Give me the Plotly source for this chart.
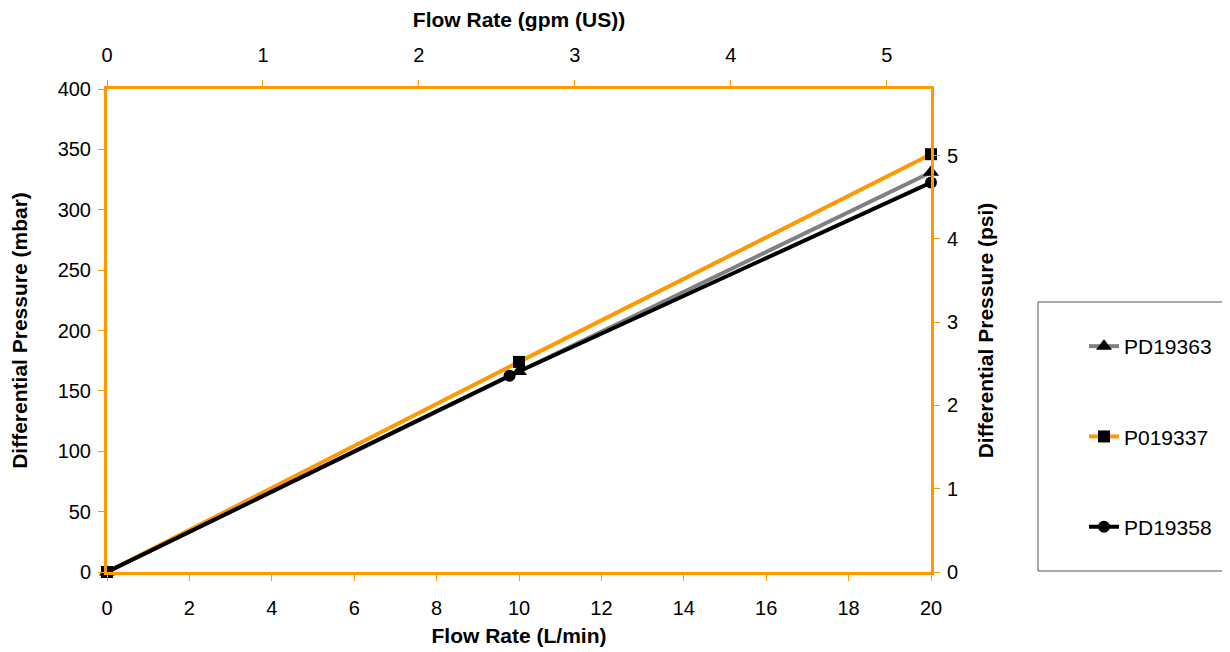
import plotly.graph_objects as go

# Data
flow_lpm_363 = [0, 10, 20]
dp_mbar_363 = [0, 166, 331]
flow_lpm_337 = [0, 10, 20]
dp_mbar_337 = [0, 174, 346]
flow_lpm_358 = [0, 9.77, 20]
dp_mbar_358 = [0, 162.5, 322.5]
series_names = ["PD19363", "P019337", "PD19358"]

LPM_PER_GPM = 3.78541
MBAR_PER_PSI = 68.9476

ORANGE = "#FF9900"
FONT = "Liberation Sans, Arial, sans-serif"

# figure geometry (page has an 8px body offset)
W, H = 1222, 644
L, R, T, B = 99, 923, 81, 564
PW, PH = R - L, B - T

fig = go.Figure()
fig.add_trace(go.Scatter(x=flow_lpm_363, y=dp_mbar_363, name=series_names[0], mode="lines+markers",
                         line=dict(color="#808080", width=4), cliponaxis=False,
                         marker=dict(symbol="triangle-up", size=14, color="black"),
                         legendgroup="a"))
fig.add_trace(go.Scatter(x=flow_lpm_337, y=dp_mbar_337, name=series_names[1], mode="lines+markers",
                         line=dict(color=ORANGE, width=4), cliponaxis=False,
                         marker=dict(symbol="square", size=12, color="black"),
                         legendgroup="b"))
fig.add_trace(go.Scatter(x=flow_lpm_358, y=dp_mbar_358, name=series_names[2], mode="lines+markers",
                         line=dict(color="black", width=4), cliponaxis=False,
                         marker=dict(symbol="circle", size=12, color="black"),
                         legendgroup="c"))
# invisible trace to activate secondary axes
fig.add_trace(go.Scatter(x=[0, 20 / LPM_PER_GPM], y=[0, 400 / MBAR_PER_PSI], xaxis="x2", yaxis="y2",
                         mode="markers", marker=dict(opacity=0), showlegend=False, hoverinfo="skip"))

axis_common = dict(showgrid=False, zeroline=False, showline=True, linecolor=ORANGE, linewidth=3,
                   ticks="outside", tickcolor=ORANGE, ticklen=6, tickwidth=1, automargin=False,
                   tickfont=dict(family=FONT, size=20, color="black"))
title_font = dict(family=FONT, size=21, color="black", weight="bold")

# legend frame (open on the right, it runs off the image) in paper coordinates
bx0, bx1 = (1030 - L) / PW, (1260 - L) / PW
by0, by1 = (B - 563) / PH, (B - 294) / PH
fig.add_shape(type="path", xref="paper", yref="paper",
              path=f"M {bx1},{by1} L {bx0},{by1} L {bx0},{by0} L {bx1},{by0}",
              line=dict(color="#555555", width=1), layer="below")

fig.update_layout(
    width=W, height=H,
    margin=dict(l=L, r=W - R, t=T, b=H - B, autoexpand=False),
    paper_bgcolor="white", plot_bgcolor="white",
    font=dict(family=FONT, size=20, color="black"),
    xaxis=dict(range=[0, 20], dtick=2, ticklabelstandoff=10,
               title=dict(text="Flow Rate (L/min)", font=title_font, standoff=11),
               **axis_common),
    yaxis=dict(range=[0, 400], dtick=50, ticklabelstandoff=3,
               title=dict(text="Differential Pressure (mbar)", font=title_font, standoff=27),
               **axis_common),
    xaxis2=dict(range=[0, 20 / LPM_PER_GPM], dtick=1, overlaying="x", side="top", ticklabelstandoff=10,
                title=dict(text="Flow Rate (gpm (US))", font=title_font, standoff=13), **axis_common),
    yaxis2=dict(range=[0, 400 / MBAR_PER_PSI], dtick=1, overlaying="y", side="right", ticklabelstandoff=3,
                title=dict(text="Differential Pressure (psi)", font=title_font, standoff=22), **axis_common),
    legend=dict(x=(1076 - L) / PW, y=(B - 318) / PH, xanchor="left", yanchor="top",
                borderwidth=0, bgcolor="rgba(0,0,0,0)",
                font=dict(family=FONT, size=21, color="black"),
                tracegroupgap=60, traceorder="grouped"),
    showlegend=True,
)

fig.write_html("out.html")
